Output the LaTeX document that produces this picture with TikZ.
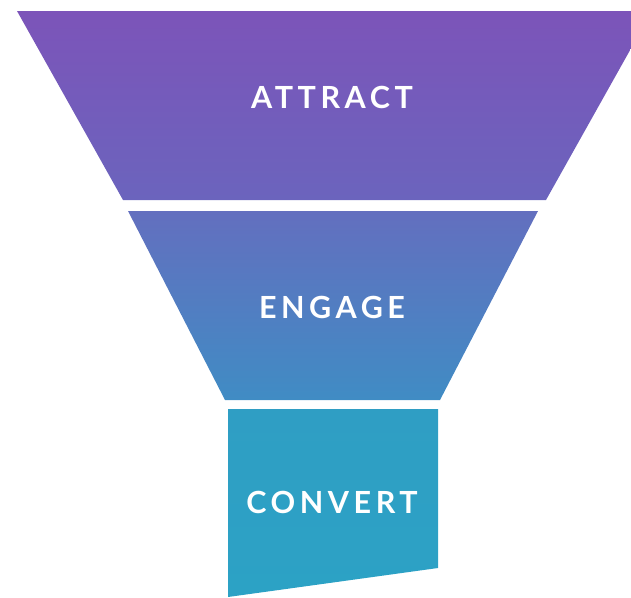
\documentclass[tikz,border=0pt]{standalone}
\usepackage{fontspec}
\newfontfamily\lbl{Lato}[LetterSpace=15]
\begin{document}
\begin{tikzpicture}[x=1pt,y=-1pt,
  lab/.style={text=white,font=\lbl\bfseries\fontsize{30.5}{33}\selectfont,inner sep=0pt,anchor=center}]
\useasboundingbox (0,0) rectangle (631,597);
\clip (0,0) rectangle (631,597);
\definecolor{cA}{RGB}{124,84,185}
\definecolor{cB}{RGB}{107,100,189}
\definecolor{cC}{RGB}{99,111,191}
\definecolor{cD}{RGB}{64,140,196}
\definecolor{cE}{RGB}{47,158,196}
\definecolor{cF}{RGB}{44,162,197}
\shade[top color=cA,bottom color=cB] (17,11) -- (652,11) -- (546,200) -- (123,200) -- cycle;
\shade[top color=cC,bottom color=cD] (128,211) -- (538,211) -- (440,400) -- (225,400) -- cycle;
\shade[top color=cE,bottom color=cF] (228,409) -- (438,409) -- (438,568) -- (228,597) -- cycle;
\node[lab] (attract) at (332,97) {ATTRACT};
\node[lab] (engage) at (332,307) {ENGAGE};
\node[lab] (convert) at (332,502) {CONVERT};
\end{tikzpicture}
\end{document}
